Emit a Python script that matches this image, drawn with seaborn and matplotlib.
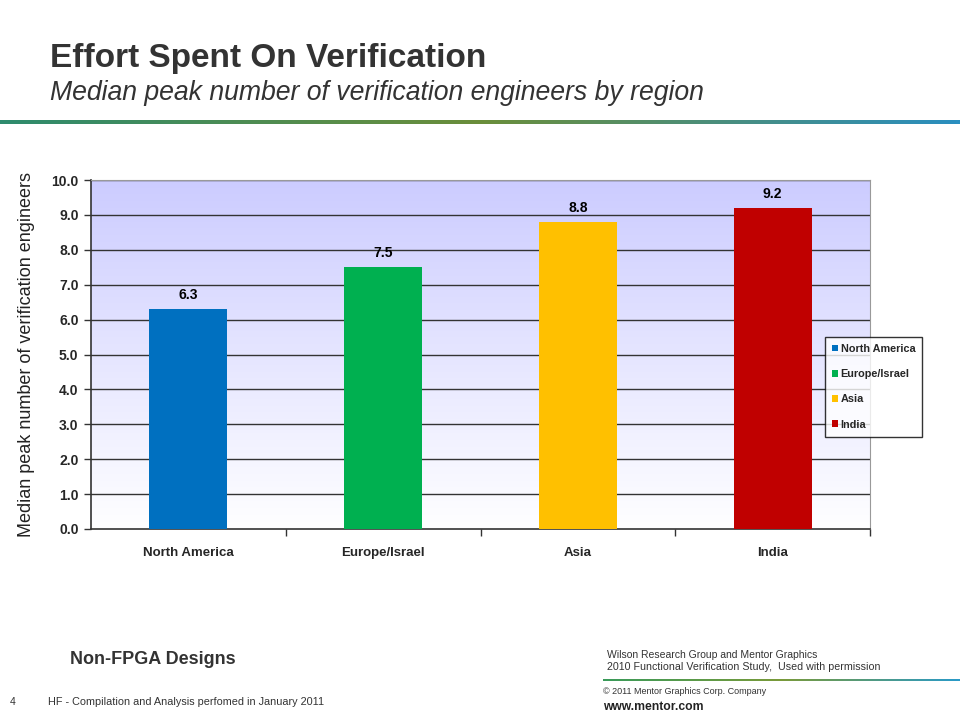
import numpy as np
import matplotlib
matplotlib.use("Agg")
import matplotlib.pyplot as plt
import seaborn as sns
from matplotlib.colors import LinearSegmentedColormap

regions = ["North America", "Europe/Israel", "Asia", "India"]
values = [6.3, 7.5, 8.8, 9.2]
colors = ["#0070C0", "#00B050", "#FFC000", "#C00000"]
yticks = [0.0, 1.0, 2.0, 3.0, 4.0, 5.0, 6.0, 7.0, 8.0, 9.0, 10.0]

sns.set_theme(style="white")
plt.rcParams['font.family'] = ['Liberation Sans', 'DejaVu Sans']

fig = plt.figure(figsize=(9.6, 7.2), dpi=100)
ax = fig.add_axes([91/960, 1-529/720, 779/960, 349/720])

# gradient background
grad = np.linspace(0, 1, 256).reshape(-1, 1)
cmap = LinearSegmentedColormap.from_list("bg", ["#FFFFFF", "#CCCCFF"])
ax.imshow(grad, extent=[-0.5, 3.5, 0, 10], origin="lower", aspect="auto",
          cmap=cmap, zorder=0)

sns.barplot(x=regions, y=values, hue=regions, palette=colors, width=0.4,
            dodge=False, legend=True, ax=ax, zorder=3, saturation=1,
            linewidth=0, edgecolor="none")

ax.set_xlim(-0.5, 3.5)
ax.set_ylim(0, 10)
ax.set_yticks(yticks)
ax.set_yticklabels([f"{v:.1f}" for v in yticks], fontweight="bold", fontsize=10)
for y in yticks[1:]:
    ax.axhline(y, color="#333333", lw=1.0, zorder=1)

ax.set_xticks(range(len(regions)))
ax.set_xticklabels(regions, fontweight="bold", fontsize=9.5)
ax.tick_params(axis="x", length=0, pad=13)
ax.tick_params(axis="y", length=5, width=1, color="#333333", direction="out",
               pad=4, left=True)
ax.set_xticks([0.5, 1.5, 2.5, 3.5], minor=True)
ax.tick_params(axis="x", which="minor", length=5, width=1, color="#333333",
               direction="out", bottom=True)

for i, v in enumerate(values):
    ax.text(i, v + 0.2, f"{v:.1f}", ha="center", va="bottom", fontsize=10,
            fontweight="bold", color="black", zorder=5)

ax.set_xlabel("")
ax.set_ylabel("Median peak number of verification engineers", fontsize=13,
              color="#222222", labelpad=12)

for s in ["left", "bottom"]:
    ax.spines[s].set_color("#333333")
    ax.spines[s].set_linewidth(1.2)
for s in ["top", "right"]:
    ax.spines[s].set_color("#999999")
    ax.spines[s].set_linewidth(0.8)

leg = ax.legend(loc="upper left", bbox_to_anchor=(825/960, 1-337/720),
                bbox_transform=fig.transFigure, frameon=True, fancybox=False,
                borderaxespad=0,
                handlelength=0.55, handleheight=0.55, handletextpad=0.25,
                labelspacing=1.4, borderpad=0.65,
                prop={"weight": "bold", "size": 7.8})
leg.get_frame().set_edgecolor("black")
leg.get_frame().set_linewidth(1.0)
leg.get_frame().set_facecolor("white")
leg.set_zorder(10)

def grad_line(x0, x1, y, h, c0, c1, c2=None):
    lax = fig.add_axes([x0/960, 1-(y+h/2)/720, (x1-x0)/960, h/720])
    lax.axis("off")
    cols = [c0, c1] if c2 is None else [c0, c1, c2]
    cm = LinearSegmentedColormap.from_list("ln", cols)
    lax.imshow(np.linspace(0, 1, 256).reshape(1, -1), aspect="auto", cmap=cm,
               extent=[0, 1, 0, 1])

grad_line(0, 960, 122, 4, "#2E8B6E", "#6B8E3A", "#2A8FC0")
grad_line(603, 960, 680, 3, "#3A9A5A", "#7A9A3A", "#2A9AC8")

fig.text(50/960, 1-58/720, "Effort Spent On Verification", fontsize=24,
         fontweight="bold", color="#333333", va="center", ha="left")
fig.text(50/960, 1-93/720, "Median peak number of verification engineers by region",
         fontsize=19.2, style="italic", color="#333333", va="center", ha="left")

fig.text(70/960, 1-660/720, "Non-FPGA Designs", fontsize=13, fontweight="bold",
         color="#333333", va="center", ha="left")
fig.text(10/960, 1-702/720, "4", fontsize=7.5, color="#333333", va="center")
fig.text(48/960, 1-702/720, "HF - Compilation and Analysis perfomed in January 2011",
         fontsize=7.8, color="#333333", va="center")
fig.text(607/960, 1-655/720, "Wilson Research Group and Mentor Graphics",
         fontsize=7.5, color="#333333", va="center")
fig.text(607/960, 1-667/720,
         "2010 Functional Verification Study,  Used with permission",
         fontsize=7.7, color="#333333", va="center")
fig.text(603/960, 1-692/720, "\u00a9 2011 Mentor Graphics Corp. Company",
         fontsize=6.5, color="#333333", va="center")
fig.text(603/960, 1-707/720, "www.mentor.com", fontsize=8.7, fontweight="bold",
         color="#222222", va="center")

fig.savefig("out.png", dpi=100)
